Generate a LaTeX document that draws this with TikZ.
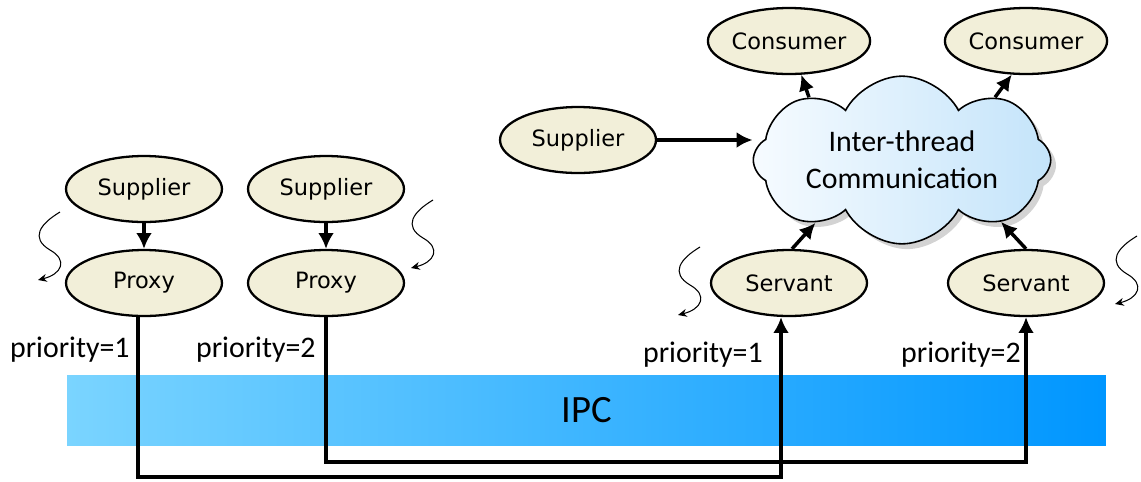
\documentclass[tikz,border=0pt]{standalone}
\usepackage{fontspec}
\setmainfont{Carlito}
\newfontfamily\rolefont{DejaVu Sans}
\usetikzlibrary{shapes.geometric,shapes.symbols,arrows.meta,shadows}

\definecolor{rolefill}{RGB}{242,239,217}
\definecolor{ipcleft}{RGB}{122,212,255}
\definecolor{ipcright}{RGB}{0,150,255}
\definecolor{cloudleft}{RGB}{246,251,255}
\definecolor{cloudright}{RGB}{196,228,250}

\begin{document}
\begin{tikzpicture}[x=0.02cm,y=-0.02cm,
  role/.style={draw,ellipse,fill=rolefill,line width=1.3pt,minimum width=3.12cm,
    minimum height=1.32cm,inner sep=0pt,font=\rolefont\fontsize{12.8}{15}\selectfont},
  flow/.style={line width=2pt,-{Latex[length=9pt,width=9pt]}},
  wig/.style={line width=0.6pt,-{Stealth[length=5pt,width=4.5pt]}},
  prio/.style={anchor=east,inner sep=0pt,font=\fontsize{17}{19}\selectfont}]
\newcommand\wiggle[2]{
\draw[wig,shift={(#1,#2)}] (0,0) .. controls (-20,12) and (-30,26) .. (-10,38)
  .. controls (8,48) and (2,62) .. (-22,68);
}
\useasboundingbox (0,0) rectangle (1141,481);

\node[left color=ipcleft,right color=ipcright,minimum width=20.78cm,minimum height=1.4cm,
  inner sep=0pt,font=\fontsize{22}{24}\selectfont] (ipc) at (586.5,410) {IPC};

\node[role] (sup1) at (144,189) {Supplier};
\node[role] (sup2) at (326,189) {Supplier};
\node[role] (prx1) at (144,283) {Proxy};
\node[role] (prx2) at (326,283) {Proxy};
\node[role] (sup3) at (578,140) {Supplier};
\node[role] (con1) at (789,41) {Consumer};
\node[role] (con2) at (1026,41) {Consumer};
\node[role] (srv1) at (789,283) {Servant};
\node[role] (srv2) at (1026,283) {Servant};
\node[cloud,cloud puffs=8,cloud puff arc=125,aspect=2.4,draw,line width=0.9pt,
  left color=cloudleft,right color=cloudright,
  drop shadow={shadow xshift=3pt,shadow yshift=-3pt,opacity=0.35},minimum width=5.95cm,
  minimum height=2.95cm,inner sep=0pt,align=center,font=\fontsize{17}{21}\selectfont]
  (itc) at (902,160) {Inter-thread\\Communication};

\node[prio] (p1l) at (130,350) {priority=1};
\node[prio] (p2l) at (316,350) {priority=2};
\node[prio] (p1r) at (763,355) {priority=1};
\node[prio] (p2r) at (1021,355) {priority=2};

\draw[flow] (sup1) -- (prx1);
\draw[flow] (sup2) -- (prx2);
\draw[flow] (sup3.east) -- (sup3.east -| itc.west);
\draw[flow] (itc.146) -- (con1.-70);
\draw[flow] (itc.34) -- (con2.-113);
\draw[flow] (srv1.85) -- (itc.-144);
\draw[flow] (srv2.north) -- (itc.-32);
\draw[flow] ([xshift=-0.12cm]prx1.south) -- ++(0,160) -| ([xshift=-0.16cm]srv1.south);
\draw[flow] (prx2.south) -- ++(0,145) -| (srv2.south);

\wiggle{60}{212}
\wiggle{433}{200}
\wiggle{700}{247}
\wiggle{1137}{236}
\end{tikzpicture}
\end{document}
